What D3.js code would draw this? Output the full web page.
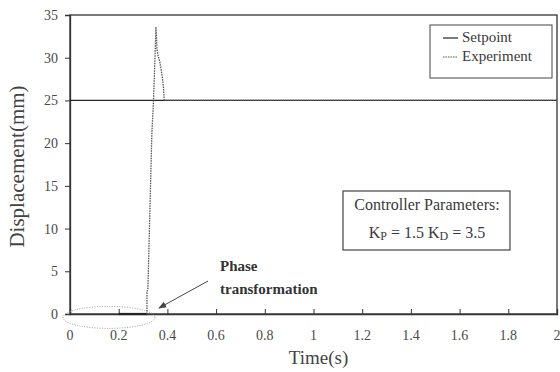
<!DOCTYPE html>
<html><head><meta charset="utf-8">
<script src="https://cdn.jsdelivr.net/npm/d3@7/dist/d3.min.js"></script>
<style>body{margin:0;background:#fff}</style>
</head><body>
<svg id="c" width="560" height="372"></svg>
<script>
const xTicks = [0,0.2,0.4,0.6,0.8,1,1.2,1.4,1.6,1.8,2];
const xTickLabels = ["0","0.2","0.4","0.6","0.8","1","1.2","1.4","1.6","1.8","2"];
const yTicks = [0,5,10,15,20,25,30,35];
const setpointT = [0, 2];
const setpointV = [25, 25];
const preloadT = [0.2, 0.316];
const preloadV = [0, 0];
const expT = [0.316,0.316,0.320,0.328,0.336,0.343,0.349,0.353,0.357,0.362,0.369,0.375,0.380,0.384,0.387,0.40,2.0];
const expV = [0,2.6,3.0,12,21,25,30,33.6,31,30.2,29.5,28.5,27.5,26.5,25,25,25];

const svg = d3.select("#c");
const x = d3.scaleLinear().domain([0,2]).range([70,557]);
const y = d3.scaleLinear().domain([0,35]).range([314,15]);
const serif = "'Liberation Serif','DejaVu Serif',serif";
const axisCol = "#333";
const txtCol = "#3a3a3a";

svg.append("rect").attr("x",x(0)).attr("y",y(35)).attr("width",x(2)-x(0)).attr("height",y(0)-y(35))
  .attr("fill","none").attr("stroke",axisCol).attr("stroke-width",1.3);

const xa = svg.append("g").attr("transform",`translate(0,${y(0)})`)
  .call(d3.axisTop(x).tickValues(xTicks).tickSize(5).tickFormat(""));
xa.select(".domain").attr("stroke",axisCol).attr("stroke-width",1.3);
xa.selectAll("line").attr("stroke",axisCol);
svg.selectAll(".xl").data(xTicks).enter().append("text")
  .attr("x",d=>x(d)).attr("y",340).attr("text-anchor","middle")
  .attr("font-family",serif).attr("font-size",14).attr("fill","#4a4a4a")
  .text((d,i)=>xTickLabels[i]);

const ya = svg.append("g").attr("transform",`translate(${x(0)},0)`)
  .call(d3.axisLeft(y).tickValues(yTicks).tickSize(5).tickFormat(""));
ya.select(".domain").attr("stroke",axisCol).attr("stroke-width",1.3);
ya.selectAll("line").attr("stroke",axisCol);
svg.selectAll(".yl").data(yTicks).enter().append("text")
  .attr("x",58).attr("y",d=>y(d)+5).attr("text-anchor","end")
  .attr("font-family",serif).attr("font-size",14).attr("fill","#4a4a4a")
  .text(d=>d);

svg.append("text").attr("transform",`translate(24,${(y(0)+y(35))/2+2}) rotate(-90)`)
  .attr("text-anchor","middle").attr("font-family",serif).attr("font-size",21).attr("fill","#444")
  .text("Displacement(mm)");
svg.append("text").attr("x",(x(0)+x(2))/2+5).attr("y",364).attr("text-anchor","middle")
  .attr("font-family",serif).attr("font-size",19).attr("fill","#444").text("Time(s)");

const line = d3.line().x(d=>x(d[0])).y(d=>y(d[1]));
svg.append("path").datum(setpointT.map((t,i)=>[t,setpointV[i]])).attr("d",line)
  .attr("fill","none").attr("stroke","#222").attr("stroke-width",1.2);
svg.append("path").datum(preloadT.map((t,i)=>[t,preloadV[i]])).attr("d",line)
  .attr("fill","none").attr("stroke","#222").attr("stroke-width",2.2);
svg.append("path").datum(expT.map((t,i)=>[t,expV[i]])).attr("d",line)
  .attr("fill","none").attr("stroke","#555").attr("stroke-width",1.3).attr("stroke-dasharray","1.5,1");

svg.append("ellipse").attr("cx",x(0.16)).attr("cy",y(-0.4)).attr("rx",46).attr("ry",11)
  .attr("fill","none").attr("stroke","#999").attr("stroke-width",1).attr("stroke-dasharray","1,1.5");

svg.append("defs").append("marker").attr("id","ah").attr("viewBox","0 0 10 10").attr("refX",9).attr("refY",5)
  .attr("markerWidth",8).attr("markerHeight",8).attr("orient","auto")
  .append("path").attr("d","M0,1 L10,5 L0,9 Z").attr("fill","#444");
svg.append("line").attr("x1",208).attr("y1",281).attr("x2",159).attr("y2",308)
  .attr("stroke","#444").attr("stroke-width",1).attr("marker-end","url(#ah)");
svg.append("text").attr("x",220).attr("y",271).attr("font-family",serif).attr("font-size",15)
  .attr("font-weight","bold").attr("fill","#333").text("Phase");
svg.append("text").attr("x",220).attr("y",294).attr("font-family",serif).attr("font-size",15)
  .attr("font-weight","bold").attr("fill","#333").text("transformation");

svg.append("rect").attr("x",430).attr("y",25).attr("width",122).attr("height",53)
  .attr("fill","#fff").attr("stroke","#444").attr("stroke-width",1);
const leg = [["Setpoint","#222",null],["Experiment","#555","1.5,1"]];
leg.forEach((l,i)=>{
  const yy = 38+i*19;
  svg.append("line").attr("x1",443).attr("x2",458).attr("y1",yy).attr("y2",yy)
    .attr("stroke",l[1]).attr("stroke-width",1.2).attr("stroke-dasharray",l[2]);
  svg.append("text").attr("x",462).attr("y",yy+4).attr("font-family",serif).attr("font-size",15)
    .attr("fill",txtCol).text(l[0]);
});

svg.append("rect").attr("x",343).attr("y",191).attr("width",167).attr("height",59)
  .attr("fill","#fff").attr("stroke","#444").attr("stroke-width",1.2);
svg.append("text").attr("x",427).attr("y",210).attr("text-anchor","middle").attr("font-family",serif)
  .attr("font-size",16).attr("fill",txtCol).text("Controller Parameters:");
const t2 = svg.append("text").attr("x",427).attr("y",238).attr("text-anchor","middle").attr("font-family",serif)
  .attr("font-size",16).attr("fill",txtCol);
t2.append("tspan").text("K");
t2.append("tspan").attr("font-size",12).attr("dy",2).text("P");
t2.append("tspan").attr("dy",-2).text(" = 1.5  K");
t2.append("tspan").attr("font-size",12).attr("dy",2).text("D");
t2.append("tspan").attr("dy",-2).text(" = 3.5");
</script>
</body></html>
